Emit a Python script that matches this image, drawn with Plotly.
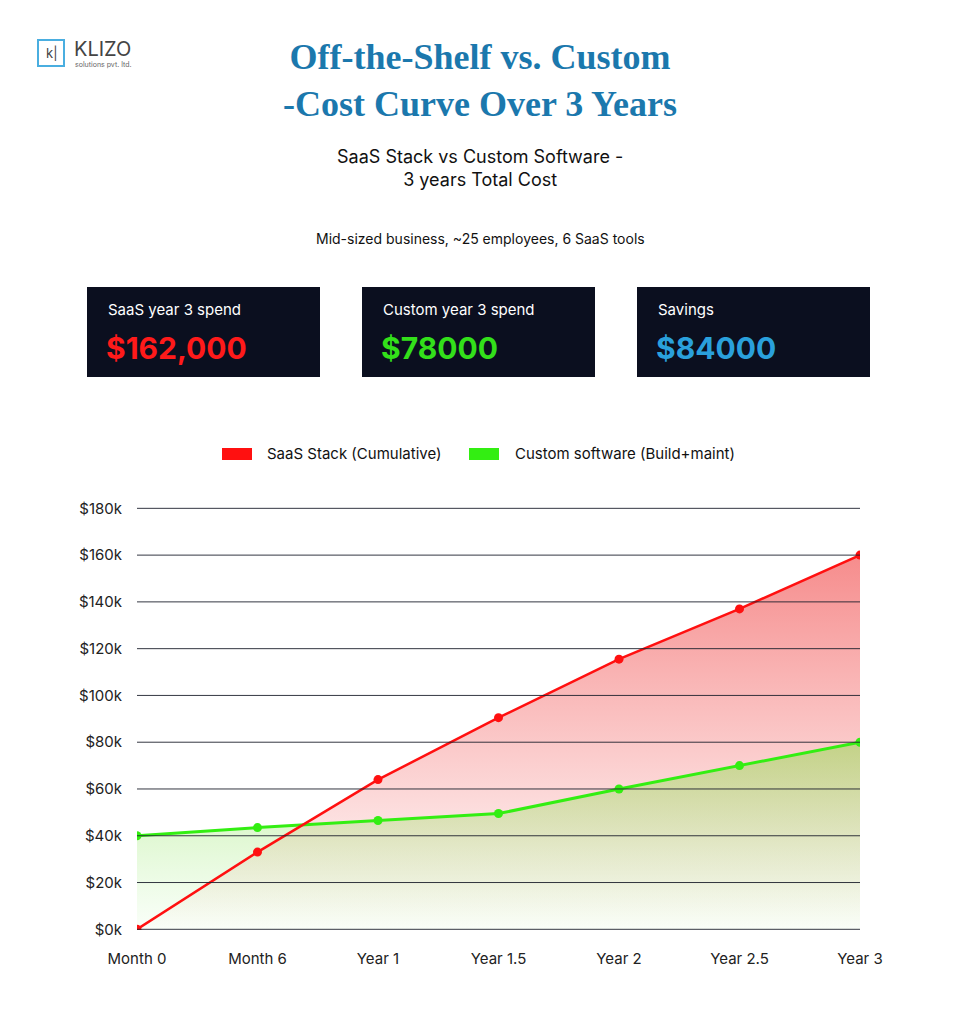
import plotly.graph_objects as go

periods = ['Month 0', 'Month 6', 'Year 1', 'Year 1.5', 'Year 2', 'Year 2.5', 'Year 3']
saas_cost = [0, 33000, 64000, 90500, 115500, 137000, 160000]
custom_cost = [40000, 43500, 46500, 49500, 60000, 70000, 80000]
y_ticks = [0, 20000, 40000, 60000, 80000, 100000, 120000, 140000, 160000, 180000]
y_labels = ['$0k', '$20k', '$40k', '$60k', '$80k', '$100k', '$120k', '$140k', '$160k', '$180k']
cards = [('SaaS year 3 spend', '$162,000', '#ff1a1a'),
         ('Custom year 3 spend', '$78000', '#33e01a'),
         ('Savings', '$84000', '#2aa0dc')]

FONT = 'Inter, Roboto, sans-serif'
OFF = 8  # page body margin
W, H = 958 - OFF, 1024 - OFF
L, R, T, B = 137 - OFF, 860 - OFF, 506 - OFF, 930 - OFF
xs = list(range(len(periods)))


def px(x):
    return (x - OFF - L) / (R - L)


def py(y):
    return (B - (y - OFF)) / (B - T)


fig = go.Figure()
fig.add_trace(go.Scatter(
    x=xs, y=saas_cost, mode='none', fill='tozeroy',
    fillgradient=dict(type='vertical',
                      colorscale=[[0, 'rgba(255,255,255,0.9)'], [1, 'rgba(246,140,140,1)']]),
    showlegend=False, hoverinfo='skip'))
fig.add_trace(go.Scatter(
    x=xs, y=custom_cost, mode='none', fill='tozeroy',
    fillgradient=dict(type='vertical',
                      colorscale=[[0, 'rgba(150,240,120,0.05)'], [1, 'rgba(140,220,70,0.5)']]),
    showlegend=False, hoverinfo='skip'))
fig.add_trace(go.Scatter(
    x=xs, y=custom_cost, mode='lines+markers',
    line=dict(color='#33ee12', width=3), marker=dict(size=9, color='#33ee12'),
    name='Custom software (Build+maint)', showlegend=False))
fig.add_trace(go.Scatter(
    x=xs, y=saas_cost, mode='lines+markers',
    line=dict(color='#ff1010', width=2.5), marker=dict(size=9, color='#ff1010'),
    name='SaaS Stack (Cumulative)', showlegend=False))

fig.update_xaxes(range=[0, 6], tickvals=xs, ticktext=periods, showgrid=False,
                 showline=False, zeroline=False, ticks='', automargin=False,
                 ticklabelstandoff=18, tickfont=dict(family=FONT, size=15, color='#222'))
fig.update_yaxes(range=[-300, 181000], tickvals=y_ticks, ticktext=y_labels,
                 showgrid=False, zeroline=False,
                 ticks='', automargin=False, ticklabelstandoff=14,
                 tickfont=dict(family=FONT, size=15, color='#222'))

shapes, ann = [], []

# gridlines drawn over the fills
for v in y_ticks:
    shapes.append(dict(type='line', xref='paper', yref='y', x0=0, x1=1, y0=v, y1=v,
                       line=dict(color='rgba(30,33,45,0.9)', width=1), layer='above'))


def text(t, x, y, size, color, xanchor='center', family=FONT):
    ann.append(dict(text=t, x=px(x), y=py(y), xref='paper', yref='paper', xanchor=xanchor,
                    yanchor='middle', showarrow=False, font=dict(family=family, size=size, color=color)))


# title
text('<b>Off-the-Shelf vs. Custom<br>-Cost Curve Over 3 Years</b>', 480, 80, 36, '#1b78ad',
     family='Liberation Serif, serif')
text('SaaS Stack vs Custom Software -<br>3 years Total Cost', 480, 168, 18, '#111')
text('Mid-sized business, ~25 employees, 6 SaaS tools', 480, 238, 14, '#111')
# logo
shapes.append(dict(type='rect', xref='paper', yref='paper', x0=px(38), x1=px(64),
                   y0=py(66), y1=py(40), line=dict(color='#4aaee0', width=2),
                   fillcolor='rgba(0,0,0,0)'))
text('k|', 51, 53, 13, '#444')
text('KLIZO', 72, 49, 20, '#444', xanchor='left')
text('solutions pvt. ltd.', 73, 64, 7, '#666', xanchor='left')
# cards
for i, (label, value, color) in enumerate(cards):
    x0 = 87 + i * 275
    shapes.append(dict(type='rect', xref='paper', yref='paper', x0=px(x0), x1=px(x0 + 233),
                       y0=py(377), y1=py(287), fillcolor='#0b0f1f', line=dict(width=0)))
    text(label, x0 + 19, 309, 15, '#fff', xanchor='left')
    text('<b>' + value + '</b>', x0 + 17, 348, 30, color, xanchor='left')
# legend
for sx, lx, col, name in [(222, 265, '#ff1010', 'SaaS Stack (Cumulative)'),
                          (469, 513, '#33ee12', 'Custom software (Build+maint)')]:
    shapes.append(dict(type='rect', xref='paper', yref='paper', x0=px(sx), x1=px(sx + 30),
                       y0=py(460), y1=py(448), fillcolor=col, line=dict(width=0)))
    text(name, lx, 454, 15, '#111', xanchor='left')

fig.update_layout(width=W, height=H, autosize=False, paper_bgcolor='white', plot_bgcolor='white',
                  margin=dict(l=L, r=W - R, t=T, b=H - B, autoexpand=False),
                  shapes=shapes, annotations=ann, showlegend=False)
fig.write_html('out.html')
